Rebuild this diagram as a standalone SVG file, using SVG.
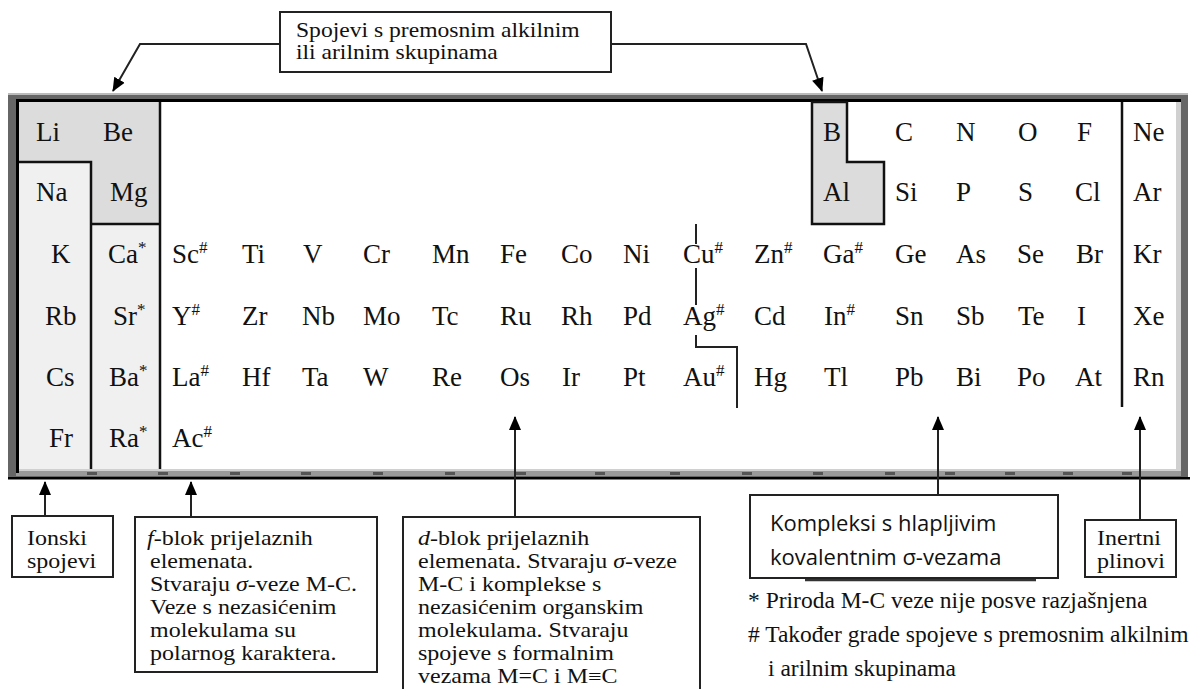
<svg xmlns="http://www.w3.org/2000/svg" width="1198" height="689" viewBox="0 0 1198 689">
<style>
.el{font-family:"Liberation Serif","Times New Roman",serif;font-size:27px;fill:#111}
.sup{font-size:17px}
.tx{font-family:"Liberation Serif","Times New Roman",serif;font-size:20px;fill:#111}
.ft{font-family:"Liberation Serif","Times New Roman",serif;font-size:23.5px;fill:#111}
.sans{font-family:"Open Sans","Noto Sans",sans-serif;font-size:22px;fill:#111}
.box{fill:#fff;stroke:#222;stroke-width:2}
.ln{fill:none;stroke:#111;stroke-width:2.5}
.conn{fill:none;stroke:#222;stroke-width:2}
.dash{fill:#555}
</style>
<defs>
<marker id="ah" markerUnits="userSpaceOnUse" markerWidth="14" markerHeight="14" viewBox="0 0 14 14" refX="13" refY="7" orient="auto">
<path d="M0,1 L14,7 L0,13 Z" fill="#000"/>
</marker>
</defs>

<g id="frame">
<rect x="8" y="93" width="1180" height="385" fill="#666"/>
<rect x="8" y="93" width="1180" height="2" fill="#bbb"/>
<rect x="16" y="99" width="1165" height="377" fill="#999"/>
<rect x="16" y="99" width="1165" height="372" fill="#d0d0d0"/>
<rect x="19" y="102" width="1157" height="367" fill="#fff"/>
<rect x="16" y="99" width="1165" height="3" fill="#000"/>
<rect x="16" y="99" width="3" height="374" fill="#000"/>
<rect x="8" y="477" width="1182" height="2.5" fill="#000"/>
<g class="dash">
<rect x="87" y="472" width="10" height="3"/><rect x="158" y="472" width="10" height="3"/><rect x="230" y="472" width="10" height="3"/><rect x="301" y="472" width="10" height="3"/><rect x="373" y="472" width="10" height="3"/><rect x="445" y="472" width="10" height="3"/><rect x="516" y="472" width="10" height="3"/><rect x="595" y="472" width="10" height="3"/><rect x="670" y="472" width="10" height="3"/><rect x="742" y="472" width="10" height="3"/><rect x="813" y="472" width="10" height="3"/><rect x="885" y="472" width="10" height="3"/><rect x="945" y="472" width="10" height="3"/><rect x="1005" y="472" width="10" height="3"/><rect x="1063" y="472" width="10" height="3"/><rect x="1122" y="472" width="10" height="3"/>
</g>
</g>

<g id="regions">
<rect x="19" y="102" width="141" height="60" fill="#dcdcdc"/>
<rect x="91" y="162" width="69" height="62" fill="#dcdcdc"/>
<rect x="19" y="162" width="72" height="307" fill="#f0f0f0"/>
<rect x="91" y="224" width="69" height="245" fill="#f0f0f0"/>
<path class="ln" d="M160,102 V469 M19,162 H91 V469 M91,224 H160"/>
<path d="M812,102 H847 V162 H884 V224 H812 Z" fill="#dcdcdc" stroke="#111" stroke-width="2.5"/>
<path class="ln" d="M1122,102 V407"/>
<path class="conn" d="M696,224 V244 M696,268 V305 M696,335 V347 H737 V408"/>
</g>

<g id="elements" class="el">
<text x="36" y="141">Li</text><text x="103" y="141">Be</text>
<text x="823" y="141">B</text><text x="895" y="141">C</text><text x="956" y="141">N</text><text x="1018" y="141">O</text><text x="1077" y="141">F</text><text x="1133" y="141">Ne</text>
<text x="36" y="201">Na</text><text x="110" y="201">Mg</text>
<text x="823" y="201">Al</text><text x="895" y="201">Si</text><text x="956" y="201">P</text><text x="1018" y="201">S</text><text x="1075" y="201">Cl</text><text x="1133" y="201">Ar</text>
<text x="51" y="263">K</text><text x="108" y="263">Ca<tspan class="sup" dy="-10">*</tspan></text><text x="172" y="263">Sc<tspan class="sup" dy="-10">#</tspan></text><text x="242" y="263">Ti</text><text x="303" y="263">V</text><text x="363" y="263">Cr</text><text x="432" y="263">Mn</text><text x="500" y="263">Fe</text><text x="561" y="263">Co</text><text x="623" y="263">Ni</text><text x="683" y="263">Cu<tspan class="sup" dy="-10">#</tspan></text><text x="754" y="263">Zn<tspan class="sup" dy="-10">#</tspan></text><text x="823" y="263">Ga<tspan class="sup" dy="-10">#</tspan></text><text x="895" y="263">Ge</text><text x="956" y="263">As</text><text x="1017" y="263">Se</text><text x="1076" y="263">Br</text><text x="1133" y="263">Kr</text>
<text x="45" y="325">Rb</text><text x="113" y="325">Sr<tspan class="sup" dy="-10">*</tspan></text><text x="172" y="325">Y<tspan class="sup" dy="-10">#</tspan></text><text x="242" y="325">Zr</text><text x="302" y="325">Nb</text><text x="363" y="325">Mo</text><text x="432" y="325">Tc</text><text x="500" y="325">Ru</text><text x="561" y="325">Rh</text><text x="623" y="325">Pd</text><text x="683" y="325">Ag<tspan class="sup" dy="-10">#</tspan></text><text x="754" y="325">Cd</text><text x="824" y="325">In<tspan class="sup" dy="-10">#</tspan></text><text x="895" y="325">Sn</text><text x="956" y="325">Sb</text><text x="1018" y="325">Te</text><text x="1077" y="325">I</text><text x="1133" y="325">Xe</text>
<text x="46" y="386">Cs</text><text x="109" y="386">Ba<tspan class="sup" dy="-10">*</tspan></text><text x="172" y="386">La<tspan class="sup" dy="-10">#</tspan></text><text x="242" y="386">Hf</text><text x="302" y="386">Ta</text><text x="363" y="386">W</text><text x="432" y="386">Re</text><text x="500" y="386">Os</text><text x="562" y="386">Ir</text><text x="623" y="386">Pt</text><text x="683" y="386">Au<tspan class="sup" dy="-10">#</tspan></text><text x="754" y="386">Hg</text><text x="824" y="386">Tl</text><text x="895" y="386">Pb</text><text x="956" y="386">Bi</text><text x="1017" y="386">Po</text><text x="1075" y="386">At</text><text x="1133" y="386">Rn</text>
<text x="49" y="447">Fr</text><text x="109" y="447">Ra<tspan class="sup" dy="-10">*</tspan></text><text x="172" y="447">Ac<tspan class="sup" dy="-10">#</tspan></text>
</g>

<g id="connectors">
<path class="conn" d="M280,44 H140 L113,91" marker-end="url(#ah)"/>
<path class="conn" d="M611,44 H806 L822,91" marker-end="url(#ah)"/>
<path class="conn" d="M45,515 V482" marker-end="url(#ah)"/>
<path class="conn" d="M191,517 V482" marker-end="url(#ah)"/>
<path class="conn" d="M515,517 V417" marker-end="url(#ah)"/>
<path class="conn" d="M938,495 V417" marker-end="url(#ah)"/>
<path class="conn" d="M1140,520 V417" marker-end="url(#ah)"/>
</g>

<g id="top-box">
<rect class="box" x="280" y="12" width="331" height="60"/>
<g transform="translate(296,0) scale(1.18,1)">
<text class="tx" x="0" y="37">Spojevi s premosnim alkilnim</text>
<text class="tx" x="0" y="59">ili arilnim skupinama</text>
</g>
</g>

<g id="ionski">
<rect class="box" x="12" y="516" width="101" height="61"/>
<g transform="translate(27,0) scale(1.2,1)">
<text class="tx" x="0" y="545">Ionski</text>
<text class="tx" x="0" y="568">spojevi</text>
</g>
</g>

<g id="f-blok">
<rect class="box" x="135" y="517" width="242" height="155"/>
<g transform="translate(150,0) scale(1.2,1)">
<text class="tx" x="-2.5" y="545"><tspan font-style="italic">f</tspan>-blok prijelaznih</text>
<text class="tx" x="0" y="568">elemenata.</text>
<text class="tx" x="0" y="591">Stvaraju <tspan font-style="italic">σ</tspan>-veze M-C.</text>
<text class="tx" x="0" y="614">Veze s nezasićenim</text>
<text class="tx" x="0" y="637">molekulama su</text>
<text class="tx" x="0" y="660">polarnog karaktera.</text>
</g>
</g>

<g id="d-blok">
<rect class="box" x="403" y="517" width="297" height="180"/>
<g transform="translate(418,0) scale(1.2,1)">
<text class="tx" x="0" y="545"><tspan font-style="italic">d</tspan>-blok prijelaznih</text>
<text class="tx" x="0" y="568">elemenata. Stvaraju <tspan font-style="italic">σ</tspan>-veze</text>
<text class="tx" x="0" y="591">M-C i komplekse s</text>
<text class="tx" x="0" y="614">nezasićenim organskim</text>
<text class="tx" x="0" y="637">molekulama. Stvaraju</text>
<text class="tx" x="0" y="660">spojeve s formalnim</text>
<text class="tx" x="0" y="683">vezama M=C i M≡C</text>
</g>
</g>

<g id="kompleksi">
<path d="M805,580 H1036" stroke="#333" stroke-width="2.5"/>
<rect class="box" x="750" y="495" width="308" height="83"/>
<text class="sans" x="770" y="531">Kompleksi s hlapljivim</text>
<text class="sans" x="770" y="565">kovalentnim σ-vezama</text>
</g>

<g id="inertni">
<rect class="box" x="1085" y="520" width="91" height="57"/>
<g transform="translate(1097,0) scale(1.2,1)">
<text class="tx" x="0" y="545">Inertni</text>
<text class="tx" x="0" y="568">plinovi</text>
</g>
</g>

<g id="footnotes" class="ft">
<text x="748" y="608">* Priroda M-C veze nije posve razjašnjena</text>
<text x="748" y="642"># Također grade spojeve s premosnim alkilnim</text>
<text x="768" y="676">i arilnim skupinama</text>
</g>
</svg>
